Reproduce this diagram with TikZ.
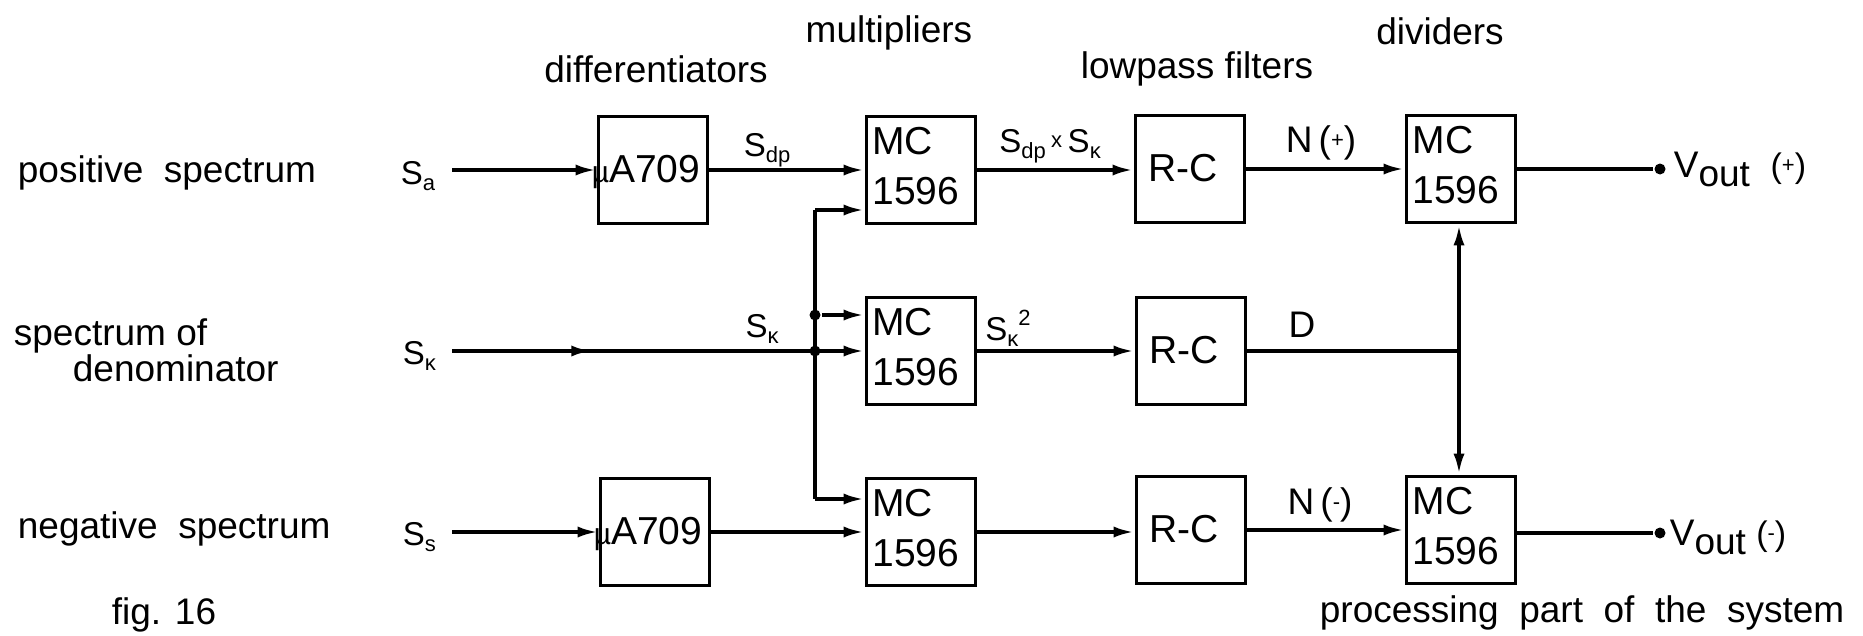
\documentclass[tikz,border=0pt]{standalone}
\usepackage{fontspec}
\setmainfont{Liberation Sans}
\usetikzlibrary{arrows.meta,decorations.markings}
\newcommand\lsub[1]{\raisebox{-6pt}{\fontsize{22}{24}\selectfont #1}}
\newcommand\smsup[1]{\raisebox{5pt}{\fontsize{22}{24}\selectfont #1}}
\begin{document}
\begin{tikzpicture}[x=1pt,y=-1pt,
  line width=3.8pt,
  blk/.style={draw, line width=3.8pt, minimum width=109pt, minimum height=107pt, inner sep=0pt},
  lbl/.style={font=\fontsize{37}{40}\selectfont, inner sep=0pt},
  big/.style={font=\fontsize{39}{42}\selectfont, inner sep=0pt},
  sig/.style={font=\fontsize{33}{36}\selectfont, inner sep=0pt},
  arr/.style={-{Latex[length=21pt,width=11pt]}},
  dot/.style={circle, fill, inner sep=0pt, minimum size=11pt},
  midarr/.style={postaction={decorate}, decoration={markings, mark=at position 0.34 with {\arrow{Latex[length=21pt,width=11pt]}}}}
]
\useasboundingbox (0,0) rectangle (1863,635);

% headers
\node[lbl] (hd) at (656,69) {differentiators};
\node[lbl] (hm) at (889,33) {multipliers};
\node[lbl] (hl) at (1197,69) {lowpass filters};
\node[lbl] (hv) at (1440,31) {dividers};

% left labels
\node[lbl, anchor=base west] (l1) at (16,182) {positive\ \ spectrum};
\node[lbl, anchor=base west] (l2) at (12,345) {spectrum of};
\node[lbl, anchor=base west] (l3) at (71,381) {denominator};
\node[lbl, anchor=base west] (l4) at (16,538) {negative\ \ spectrum};
\node[lbl, anchor=base west] (l5) at (110,624) {fig. 16};
\node[lbl, anchor=base west] (l6) at (1318,622) {processing\ \ part\ \ of\ \ the\ \ system};

% boxes
\node[blk] (dA) at (653,170) {};
\node[blk] (dB) at (655,532) {};
\node[blk] (mA) at (921,170) {};
\node[blk] (mB) at (921,351) {};
\node[blk] (mC) at (921,532) {};
\node[blk] (fA) at (1190,169) {};
\node[blk] (fB) at (1191,351) {};
\node[blk] (fC) at (1191,530) {};
\node[blk] (vA) at (1461,169) {};
\node[blk] (vB) at (1461,530) {};

% box texts
\node[big, anchor=base west] (tdA) at (590,182) {{\fontsize{30}{32}\selectfont µ}A709};
\node[big, anchor=base west] (tdB) at (592,544) {{\fontsize{30}{32}\selectfont µ}A709};
\foreach \b in {mA,mB,mC,vA,vB}{
  \node[big, anchor=west] (\b t1) at ([xshift=6pt,yshift=-26pt]\b.north west) {MC};
  \node[big, anchor=west] (\b t2) at ([xshift=6pt,yshift=-76pt]\b.north west) {1596};
}
\foreach \b in {fA,fB,fC}{
  \node[big, anchor=base west] (\b t) at ([xshift=13pt,yshift=-12pt]\b.center -| \b.west) {R-C};
}

% input labels
\node[sig, anchor=base west] (Sa) at (399,184) {S\lsub{a}};
\node[sig, anchor=base west] (Sk) at (401,364) {S\lsub{κ}};
\node[sig, anchor=base west] (Ss) at (401,545) {S\lsub{s}};

% coordinates
\coordinate (a0) at (452,170);
\coordinate (k0) at (452,351);
\coordinate (s0) at (452,532);
\coordinate (b1) at (815,210);
\coordinate (b2) at (815,315);
\coordinate (b3) at (815,351);
\coordinate (b4) at (815,499);
\coordinate (dj) at (1459,351);
\node[dot] (j2) at (b2) {};
\node[dot] (j3) at (b3) {};
\node[dot] (oA) at (1660,169) {};
\node[dot] (oB) at (1660,533) {};

% connectors
\draw[arr] (a0) -- (dA.west |- a0);
\draw[arr] (s0) -- (dB.west |- s0);
\draw[arr] (dA.east) -- (mA.west |- dA.east);
\draw[arr] (dB.east) -- (mC.west |- dB.east);
\draw[arr, midarr] (k0) -- (mB.west |- k0);
\draw (b1) -- (b4);
\draw[arr] (b1) -- (mA.west |- b1);
\draw[arr] (j2) -- (mB.west |- j2);
\draw[arr] (b4) -- (mC.west |- b4);
\draw[arr] (mA.east) -- (fA.west |- mA.east);
\draw[arr] (mB.east) -- (fB.west |- mB.east);
\draw[arr] (mC.east) -- (fC.west |- mC.east);
\draw[arr] (fA.east) -- (vA.west |- fA.east);
\draw[arr] (fC.east) -- (vB.west |- fC.east);
\draw (fB.east) -- (dj);
\draw[arr] (dj) -- (dj |- vA.south);
\draw[arr] (dj) -- (dj |- vB.north);
\draw (vA.east) -- (oA);
\draw (vB.east |- oB) -- (oB);

% connector labels
\node[sig] (Ldp) at (767,150) {S\lsub{dp}};
\node[sig] (Lprod) at (1050,146) {S\lsub{dp}\,\smsup{x}\,S\lsub{κ}};
\node[lbl] (Lnp) at (1321,143) {N\,(\smsup{+})};
\node[sig] (Lk) at (762,329) {S\lsub{κ}};
\node[sig] (Lk2) at (1008,328) {S\lsub{κ}\raisebox{15pt}{\fontsize{22}{24}\selectfont 2}};
\node[lbl] (LD) at (1302,325) {D};
\node[lbl] (Lnm) at (1320,505) {N\,(\smsup{-})};

% outputs
\node[lbl, anchor=base west] (Vp) at (1672,177) {V\raisebox{-9pt}{out}\ \ {\fontsize{34}{36}\selectfont(\smsup{+})}};
\node[lbl, anchor=base west] (Vm) at (1668,545) {V\raisebox{-9pt}{out}\ {\fontsize{34}{36}\selectfont(\smsup{-})}};
\end{tikzpicture}
\end{document}
